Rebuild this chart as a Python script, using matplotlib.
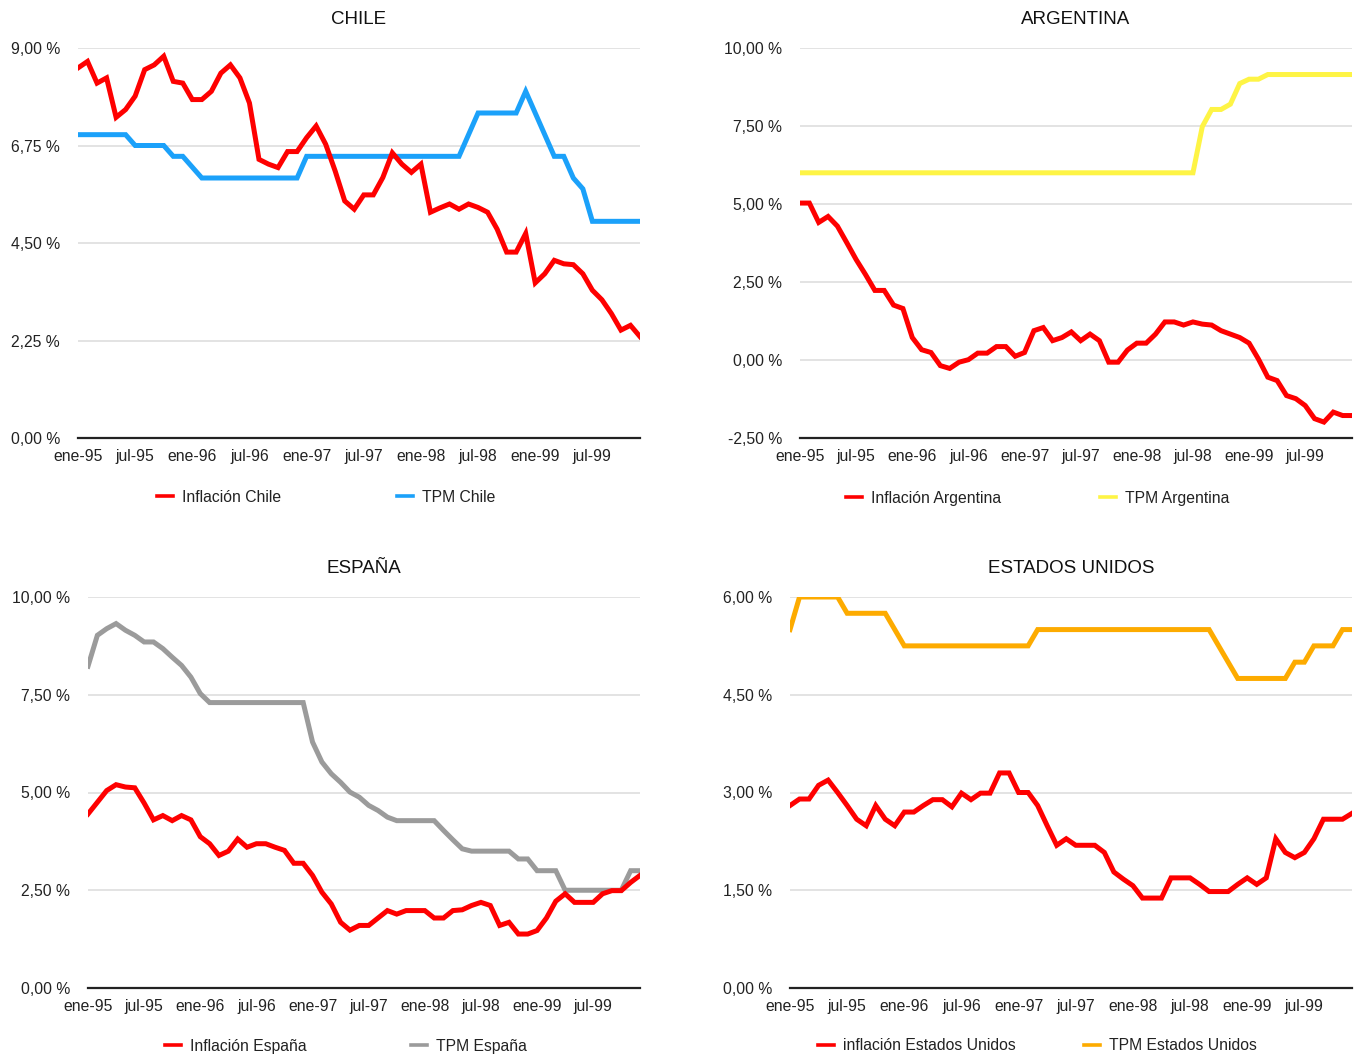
import numpy as np
import matplotlib
matplotlib.use("Agg")
import matplotlib.pyplot as plt
from matplotlib.lines import Line2D

plt.rcParams['font.family'] = ['Liberation Sans', 'DejaVu Sans']

# month labels, one tick every six months (ene-95 ... jul-99), 60 monthly points
tick_labels = ["ene-95", "jul-95", "ene-96", "jul-96", "ene-97",
               "jul-97", "ene-98", "jul-98", "ene-99", "jul-99"]
n_months = 60

# Chile
inflacion_chile = [8.54, 8.69, 8.19, 8.31, 7.40, 7.58, 7.89, 8.50, 8.61, 8.81,
                   8.23, 8.19, 7.81, 7.81, 8.00, 8.42, 8.61, 8.31, 7.73, 6.43,
                   6.32, 6.24, 6.61, 6.61, 6.93, 7.20, 6.78, 6.16, 5.47, 5.28,
                   5.61, 5.61, 6.01, 6.58, 6.32, 6.13, 6.32, 5.21, 5.31, 5.40,
                   5.28, 5.40, 5.32, 5.21, 4.82, 4.29, 4.29, 4.72, 3.58, 3.79,
                   4.10, 4.02, 4.00, 3.79, 3.41, 3.19, 2.87, 2.49, 2.60, 2.34]
tpm_chile = [7.0, 7.0, 7.0, 7.0, 7.0, 7.0, 6.75, 6.75, 6.75, 6.75,
             6.5, 6.5, 6.25, 6.0, 6.0, 6.0, 6.0, 6.0, 6.0, 6.0,
             6.0, 6.0, 6.0, 6.0, 6.5, 6.5, 6.5, 6.5, 6.5, 6.5,
             6.5, 6.5, 6.5, 6.5, 6.5, 6.5, 6.5, 6.5, 6.5, 6.5,
             6.5, 7.0, 7.5, 7.5, 7.5, 7.5, 7.5, 8.0, 7.5, 7.0,
             6.5, 6.5, 6.0, 5.75, 5.0, 5.0, 5.0, 5.0, 5.0, 5.0]

# Argentina
inflacion_argentina = [5.03, 5.03, 4.41, 4.60, 4.29, 3.76, 3.22, 2.74, 2.23, 2.23,
                       1.76, 1.65, 0.72, 0.33, 0.24, -0.18, -0.27, -0.07, 0.01, 0.22,
                       0.22, 0.43, 0.43, 0.12, 0.24, 0.94, 1.04, 0.62, 0.72, 0.90,
                       0.62, 0.83, 0.62, -0.07, -0.07, 0.32, 0.54, 0.54, 0.83, 1.22,
                       1.22, 1.12, 1.22, 1.15, 1.12, 0.94, 0.83, 0.72, 0.54, 0.03,
                       -0.55, -0.66, -1.14, -1.24, -1.46, -1.88, -1.99, -1.67, -1.78, -1.78]
tpm_argentina = [6.0, 6.0, 6.0, 6.0, 6.0, 6.0, 6.0, 6.0, 6.0, 6.0,
                 6.0, 6.0, 6.0, 6.0, 6.0, 6.0, 6.0, 6.0, 6.0, 6.0,
                 6.0, 6.0, 6.0, 6.0, 6.0, 6.0, 6.0, 6.0, 6.0, 6.0,
                 6.0, 6.0, 6.0, 6.0, 6.0, 6.0, 6.0, 6.0, 6.0, 6.0,
                 6.0, 6.0, 6.0, 7.48, 8.03, 8.03, 8.2, 8.86, 9.0, 9.0,
                 9.15, 9.15, 9.15, 9.15, 9.15, 9.15, 9.15, 9.15, 9.15, 9.15]

# España
inflacion_espana = [4.45, 4.75, 5.05, 5.20, 5.14, 5.12, 4.73, 4.30, 4.41, 4.28,
                    4.41, 4.30, 3.87, 3.69, 3.39, 3.50, 3.81, 3.60, 3.69, 3.69,
                    3.60, 3.52, 3.19, 3.19, 2.88, 2.45, 2.15, 1.68, 1.48, 1.60,
                    1.60, 1.79, 1.98, 1.89, 1.98, 1.98, 1.98, 1.79, 1.79, 1.98,
                    2.00, 2.11, 2.19, 2.11, 1.60, 1.68, 1.38, 1.38, 1.47, 1.79,
                    2.22, 2.41, 2.19, 2.19, 2.19, 2.41, 2.49, 2.49, 2.70, 2.88]
tpm_espana = [8.23, 9.02, 9.19, 9.32, 9.15, 9.02, 8.85, 8.85, 8.68, 8.46,
              8.25, 7.95, 7.53, 7.30, 7.30, 7.30, 7.30, 7.30, 7.30, 7.30,
              7.30, 7.30, 7.30, 7.30, 6.29, 5.78, 5.48, 5.26, 5.01, 4.88,
              4.67, 4.54, 4.37, 4.28, 4.28, 4.28, 4.28, 4.28, 4.03, 3.79,
              3.56, 3.50, 3.50, 3.50, 3.50, 3.50, 3.30, 3.30, 3.0, 3.0,
              3.0, 2.5, 2.5, 2.5, 2.5, 2.5, 2.5, 2.5, 3.0, 3.0]

# Estados Unidos
inflacion_eeuu = [2.80, 2.90, 2.90, 3.11, 3.19, 3.00, 2.80, 2.59, 2.49, 2.80,
                  2.59, 2.49, 2.70, 2.70, 2.80, 2.89, 2.89, 2.78, 2.99, 2.89,
                  2.99, 2.99, 3.30, 3.30, 3.00, 3.00, 2.80, 2.49, 2.19, 2.29,
                  2.19, 2.19, 2.19, 2.08, 1.78, 1.67, 1.57, 1.38, 1.38, 1.38,
                  1.69, 1.69, 1.69, 1.59, 1.48, 1.48, 1.48, 1.59, 1.69, 1.59,
                  1.69, 2.29, 2.08, 2.00, 2.08, 2.29, 2.59, 2.59, 2.59, 2.68]
tpm_eeuu = [5.5, 6.0, 6.0, 6.0, 6.0, 6.0, 5.75, 5.75, 5.75, 5.75,
            5.75, 5.5, 5.25, 5.25, 5.25, 5.25, 5.25, 5.25, 5.25, 5.25,
            5.25, 5.25, 5.25, 5.25, 5.25, 5.25, 5.5, 5.5, 5.5, 5.5,
            5.5, 5.5, 5.5, 5.5, 5.5, 5.5, 5.5, 5.5, 5.5, 5.5,
            5.5, 5.5, 5.5, 5.5, 5.5, 5.25, 5.0, 4.75, 4.75, 4.75,
            4.75, 4.75, 4.75, 5.0, 5.0, 5.25, 5.25, 5.25, 5.5, 5.5]

RED = "#fe0000"

panels = [
    # title, series, labels, colors, yticks,
    # axes box in pixels (left, right, top, bottom), legend entry x positions, legend y
    ("CHILE", [inflacion_chile, tpm_chile], ["Inflación Chile", "TPM Chile"],
     [RED, "#1ba1fa"], [0, 2.25, 4.5, 6.75, 9.0], (78, 640, 48, 438), (157, 397), 497),
    ("ARGENTINA", [inflacion_argentina, tpm_argentina], ["Inflación Argentina", "TPM Argentina"],
     [RED, "#fef445"], [-2.5, 0, 2.5, 5.0, 7.5, 10.0], (800, 1352, 48, 438), (846, 1100), 498),
    ("ESPAÑA", [inflacion_espana, tpm_espana], ["Inflación España", "TPM España"],
     [RED, "#9b9b9b"], [0, 2.5, 5.0, 7.5, 10.0], (88, 640, 597, 988), (165, 411), 1046),
    ("ESTADOS UNIDOS", [inflacion_eeuu, tpm_eeuu], ["inflación Estados Unidos", "TPM Estados Unidos"],
     [RED, "#fdab00"], [0, 1.5, 3.0, 4.5, 6.0], (790, 1352, 597, 988), (818, 1084), 1046),
]

W, H = 1359, 1055
fig = plt.figure(figsize=(W / 100, H / 100), dpi=100)

x = np.arange(n_months)
for title, series, labels, colors, yticks, box, leg_x, leg_y in panels:
    left, right, top, bottom = box
    ax = fig.add_axes([left / W, 1 - bottom / H, (right - left) / W, (bottom - top) / H])
    # TPM first, inflation drawn on top
    ax.plot(x, series[1], color=colors[1], lw=3.6, zorder=3, solid_joinstyle="miter")
    ax.plot(x, series[0], color=colors[0], lw=3.6, zorder=4, solid_joinstyle="miter")
    ax.set_xlim(0, n_months - 1)
    ax.set_ylim(yticks[0], yticks[-1])
    ax.set_yticks(yticks)
    ax.set_yticklabels([f"{v:.2f}".replace(".", ",") + " %" for v in yticks])
    ax.set_xticks(np.arange(0, n_months, 6))
    ax.set_xticklabels(tick_labels)
    ax.tick_params(axis="y", length=0, pad=13, labelsize=11.3, labelcolor="#222222")
    ax.tick_params(axis="x", length=0, pad=8, labelsize=11.3, labelcolor="#222222")
    ax.grid(axis="y", color="#dedede", lw=1.2)
    ax.set_axisbelow(True)
    for s in ["top", "right", "left"]:
        ax.spines[s].set_visible(False)
    ax.spines["bottom"].set_color("#222222")
    ax.spines["bottom"].set_linewidth(1.6)
    ax.spines["bottom"].set_zorder(5)
    ax.set_title(title, fontsize=13.5, pad=17.5, color="#111111")

    # one legend per series, each anchored at its own position below the axes
    for lab, col, lx in zip(labels, colors, leg_x):
        handle = Line2D([], [], color=col, lw=2.6)
        leg = fig.legend([handle], [lab], loc="center left",
                         bbox_to_anchor=(lx / W, 1 - leg_y / H),
                         frameon=False, handlelength=1.05, handletextpad=0.55,
                         borderpad=0, borderaxespad=0, fontsize=11.3,
                         labelcolor="#222222")

fig.savefig("out.png", dpi=100)
